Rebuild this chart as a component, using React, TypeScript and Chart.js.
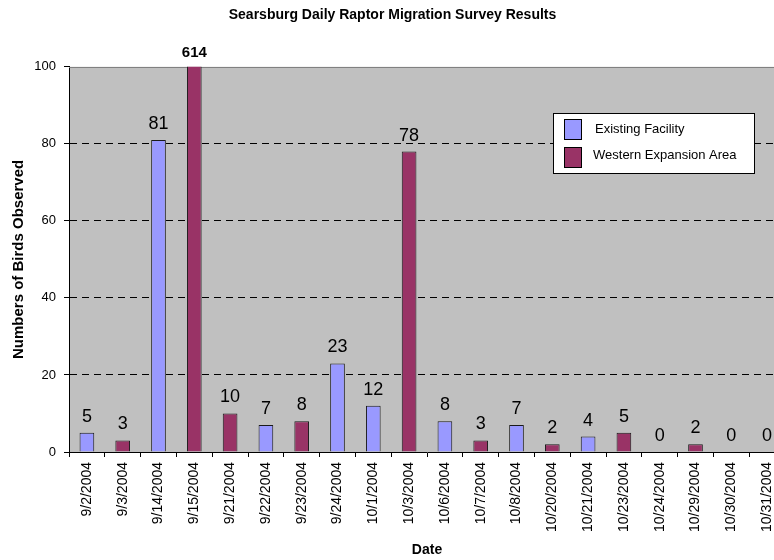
import { useEffect, useRef } from 'react';
import { Chart, registerables } from 'chart.js';

Chart.register(...registerables);

const FONT = "'Liberation Sans', Arial, Helvetica, sans-serif";

const chartTitle = 'Searsburg Daily Raptor Migration Survey Results';
const xTitle = 'Date';
const yTitle = 'Numbers of Birds Observed';

const dates = [
  '9/2/2004', '9/3/2004', '9/14/2004', '9/15/2004', '9/21/2004',
  '9/22/2004', '9/23/2004', '9/24/2004', '10/1/2004', '10/3/2004',
  '10/6/2004', '10/7/2004', '10/8/2004', '10/20/2004', '10/21/2004',
  '10/23/2004', '10/24/2004', '10/29/2004', '10/30/2004', '10/31/2004',
];

const seriesNames = ['Existing Facility', 'Western Expansion Area'];
const seriesColors = ['#9999FF', '#993366'];

const existingFacility = [5, null, 81, null, null, 7, null, 23, 12, null, 8, null, 7, null, 4, null, 0, null, 0, null];
const westernExpansion = [null, 3, null, 614, 10, null, 8, null, null, 78, null, 3, null, 2, null, 5, null, 2, null, 0];

const yMin = 0;
const yMax = 100;
const yStep = 20;

const plotBackground = {
  id: 'plotBackground',
  beforeDraw(chart: any) {
    const { ctx, chartArea: a } = chart;
    ctx.save();
    ctx.fillStyle = '#C0C0C0';
    ctx.fillRect(a.left, a.top, a.right - a.left, a.bottom - a.top);
    ctx.restore();
  },
  beforeDatasetsDraw(chart: any) {
    const { ctx, chartArea: a } = chart;
    ctx.save();
    ctx.strokeStyle = '#808080';
    ctx.lineWidth = 1;
    ctx.beginPath();
    ctx.moveTo(a.left, Math.round(a.top) + 0.5);
    ctx.lineTo(a.right, Math.round(a.top) + 0.5);
    ctx.stroke();
    ctx.restore();
  },
};

const valueLabels = {
  id: 'valueLabels',
  afterDatasetsDraw(chart: any) {
    const { ctx, chartArea: a } = chart;
    const max = chart.scales.y.max;
    chart.data.datasets.forEach((ds: any, di: number) => {
      const meta = chart.getDatasetMeta(di);
      meta.data.forEach((el: any, i: number) => {
        const v = ds.data[i];
        if (v === null || v === undefined) return;
        const over = v > max;
        const top = Math.max(el.y, a.top);
        ctx.save();
        ctx.font = over ? `bold 15px ${FONT}` : `18px ${FONT}`;
        ctx.fillStyle = '#000';
        ctx.textAlign = 'center';
        ctx.textBaseline = 'alphabetic';
        ctx.fillText(String(v), el.x, top - (over ? 10 : 11));
        ctx.restore();
      });
    });
  },
};

const boxLegend = {
  id: 'boxLegend',
  afterDraw(chart: any) {
    const { ctx } = chart;
    const bx = 553, by = 113, bw = 201, bh = 60;
    ctx.save();
    ctx.fillStyle = '#FFFFFF';
    ctx.fillRect(bx, by, bw, bh);
    ctx.strokeStyle = '#000';
    ctx.lineWidth = 1;
    ctx.strokeRect(bx + 0.5, by + 0.5, bw, bh);
    chart.data.datasets.forEach((ds: any, i: number) => {
      const sy = 119 + i * 28;
      ctx.fillStyle = ds.backgroundColor;
      ctx.fillRect(564, sy, 18, 21);
      ctx.strokeStyle = '#000';
      ctx.strokeRect(564.5, sy + 0.5, 17, 20);
      ctx.fillStyle = '#000';
      ctx.font = `13px ${FONT}`;
      ctx.textAlign = 'left';
      ctx.textBaseline = 'alphabetic';
      ctx.fillText(ds.label, i === 0 ? 595 : 593, 132.5 + i * 26);
    });
    ctx.restore();
  },
};

export default function App() {
  const canvasRef = useRef<HTMLCanvasElement | null>(null);

  useEffect(() => {
    const canvas = canvasRef.current;
    if (!canvas) return;
    const chart = new Chart(canvas, {
      type: 'bar',
      data: {
        labels: dates,
        datasets: [
          {
            label: seriesNames[0],
            data: existingFacility,
            backgroundColor: seriesColors[0],
            borderColor: '#1a1a1a',
            borderWidth: 1,
            grouped: false,
            barPercentage: 0.41,
            categoryPercentage: 1,
          } as any,
          {
            label: seriesNames[1],
            data: westernExpansion,
            backgroundColor: seriesColors[1],
            borderColor: '#1a1a1a',
            borderWidth: 1,
            grouped: false,
            barPercentage: 0.41,
            categoryPercentage: 1,
          } as any,
        ],
      },
      options: {
        animation: false,
        responsive: true,
        maintainAspectRatio: false,
        layout: { padding: { left: 0, right: 9, top: 0, bottom: 0 } },
        plugins: {
          legend: { display: false },
          tooltip: { enabled: false },
          title: {
            display: true,
            text: chartTitle,
            color: '#000',
            font: { family: FONT, size: 14, weight: 'bold' },
            padding: { top: 7, bottom: 43 },
          },
        },
        scales: {
          x: {
            offset: true,
            ticks: {
              autoSkip: false,
              minRotation: 90,
              maxRotation: 90,
              color: '#000',
              font: { family: FONT, size: 14 },
              padding: 5,
            },
            grid: {
              offset: true,
              drawOnChartArea: false,
              drawTicks: true,
              tickLength: 5,
              tickColor: '#000',
            },
            border: { display: true, color: '#000', width: 1 },
            title: {
              display: true,
              text: xTitle,
              color: '#000',
              font: { family: FONT, size: 14, weight: 'bold' },
              padding: { top: 0, bottom: 1 },
            },
            afterFit: (s: any) => { s.height = 108; },
          },
          y: {
            min: yMin,
            max: yMax,
            ticks: {
              stepSize: yStep,
              color: '#000',
              font: { family: FONT, size: 13 },
              padding: 8,
            },
            grid: {
              color: (c: any) => (c.tick && (c.tick.value === yMin || c.tick.value === yMax)) ? 'rgba(0,0,0,0)' : '#000',
              tickColor: '#000',
              tickLength: 5,
              drawTicks: true,
              lineWidth: 1,
              tickBorderDash: [],
            },
            border: { display: true, color: '#000', width: 1, dash: [7, 5] },
            title: {
              display: true,
              text: yTitle,
              color: '#000',
              font: { family: FONT, size: 15, weight: 'bold' },
              padding: { top: 10, bottom: 0 },
            },
            afterFit: (s: any) => { s.width = 69; },
          },
        },
      } as any,
      plugins: [plotBackground, valueLabels, boxLegend],
    });
    return () => chart.destroy();
  }, []);

  return (
    <div style={{ position: 'fixed', left: 0, top: 0, width: 774, height: 560, overflow: 'hidden', background: '#fff' }}>
      <div style={{ position: 'relative', width: 794, height: 560 }}>
        <canvas ref={canvasRef} />
      </div>
    </div>
  );
}
